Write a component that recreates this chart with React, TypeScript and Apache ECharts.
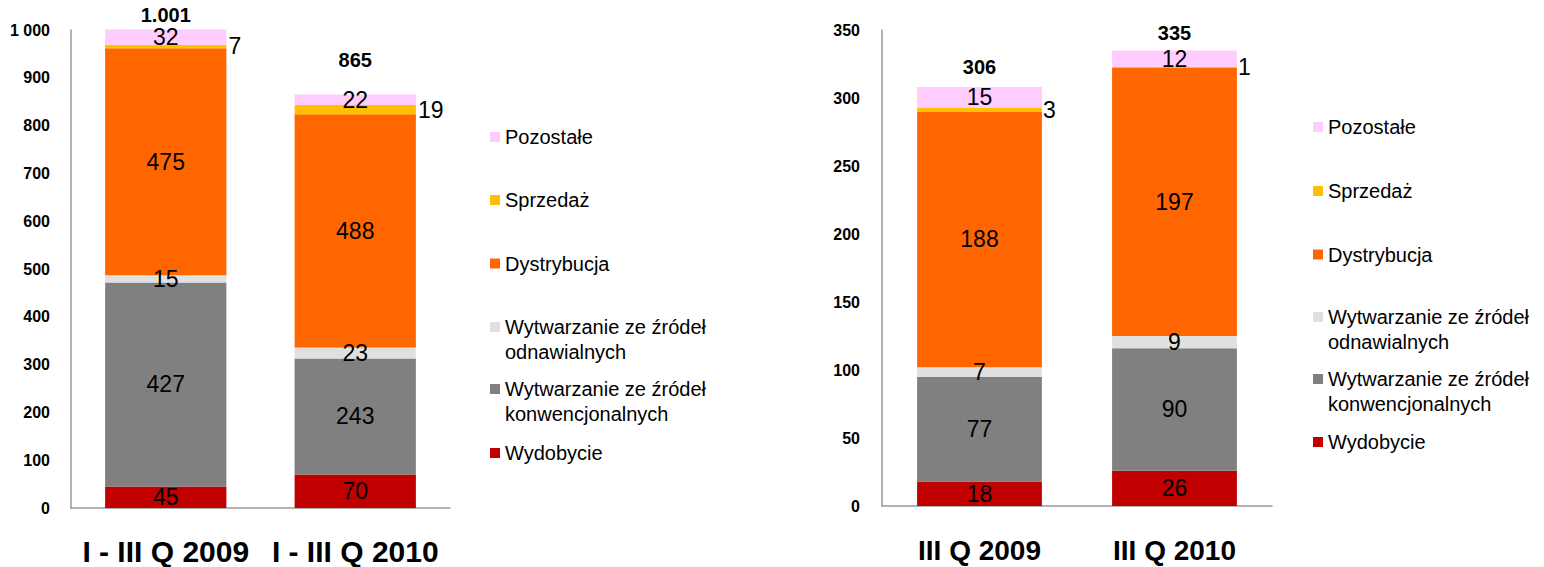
import React, { useEffect, useRef } from "react";
import * as echarts from "echarts";

const categoriesA = ["I - III Q 2009", "I - III Q 2010"];
const categoriesB = ["III Q 2009", "III Q 2010"];

const seriesNames = [
  "Wydobycie",
  "Wytwarzanie ze źródeł konwencjonalnych",
  "Wytwarzanie ze źródeł odnawialnych",
  "Dystrybucja",
  "Sprzedaż",
  "Pozostałe",
];
const seriesColors = ["#C00000", "#808080", "#E0E0E0", "#FF6600", "#FFC000", "#FFCCFF"];

// left chart (I - III Q)
const wydobycieA = [45, 70];
const konwencjonalneA = [427, 243];
const odnawialneA = [15, 23];
const dystrybucjaA = [475, 488];
const sprzedazA = [7, 19];
const pozostaleA = [32, 22];
const totalsA = [1001, 865];
const totalLabelsA = ["1.001", "865"];

// right chart (III Q)
const wydobycieB = [18, 26];
const konwencjonalneB = [77, 90];
const odnawialneB = [7, 9];
const dystrybucjaB = [188, 197];
const sprzedazB = [3, 1];
const pozostaleB = [15, 12];
const totalsB = [306, 335];
const totalLabelsB = ["306", "335"];

const ticksA = { min: 0, max: 1000, interval: 100 };
const ticksB = { min: 0, max: 350, interval: 50 };

const FONT = "'Liberation Sans', Arial, sans-serif";

function fmtThousands(v: number): string {
  const s = String(v);
  return s.replace(/\B(?=(\d{3})+(?!\d))/g, " ");
}

export default function App() {
  const ref = useRef<HTMLDivElement>(null);

  useEffect(() => {
    if (!ref.current) return;
    const chart = echarts.init(ref.current, undefined, { renderer: "svg" });

    const dataA = [wydobycieA, konwencjonalneA, odnawialneA, dystrybucjaA, sprzedazA, pozostaleA];
    const dataB = [wydobycieB, konwencjonalneB, odnawialneB, dystrybucjaB, sprzedazB, pozostaleB];

    const makeBars = (data: number[][], idx: number, stack: string, rightDist: number) =>
      data.map((vals, i) => ({
        type: "bar",
        name: seriesNames[i],
        stack,
        xAxisIndex: idx,
        yAxisIndex: idx,
        barWidth: "64%",
        clip: false,
        itemStyle: { color: seriesColors[i] },
        label: {
          show: true,
          position: i === 4 ? "right" : "inside",
          distance: i === 4 ? rightDist : 5,
          color: "#000",
          fontFamily: FONT,
          fontSize: 23,
        },
        data: vals,
      }));

    const makeTotals = (
      totals: number[],
      labels: string[],
      idx: number,
      dists: number[]
    ) => ({
      type: "scatter",
      name: "Suma",
      xAxisIndex: idx,
      yAxisIndex: idx,
      symbol: "circle",
      symbolSize: 0,
      clip: false,
      silent: true,
      itemStyle: { color: "#000000", opacity: 1 },
      label: {
        show: true,
        position: "top",
        color: "#000000",
        opacity: 1,
        fontWeight: "bold",
        fontFamily: FONT,
        fontSize: 20,
      },
      emphasis: { disabled: true },
      data: totals.map((v, i) => ({
        value: v,
        label: {
          distance: dists[i],
          formatter: labels[i],
        },
      })),
    });

    const legendTopsA = [440.5, 351.5, 289.5, 251, 187.5, 124.5];
    const legendTopsB = [429.5, 341.5, 279.5, 242, 178.5, 114.5];
    const legendFormatter = (name: string) => {
      const m = name.match(/^(Wytwarzanie ze źródeł) (.+)$/);
      return m ? "\n" + m[1] + "\n" + m[2] : name;
    };
    const makeLegends = (tops: number[], left: number) =>
      seriesNames.map((n, i) => ({
        data: [n],
        top: tops[i],
        left,
        padding: 0,
        orient: "vertical",
        selectedMode: false,
        icon: "rect",
        itemWidth: 10,
        itemHeight: 10,
        formatter: legendFormatter,
        textStyle: {
          color: "#000",
          fontFamily: FONT,
          fontSize: 20,
          lineHeight: 25,
        },
      }));

    const valueAxis = (idx: number, t: { min: number; max: number; interval: number }, margin: number) => ({
      type: "value",
      gridIndex: idx,
      min: t.min,
      max: t.max,
      interval: t.interval,
      splitLine: { show: false },
      axisTick: { show: false },
      axisLine: { show: true, lineStyle: { color: "#999999", width: 1.5 } },
      axisLabel: {
        margin,
        color: "#000",
        fontWeight: "bold",
        fontFamily: FONT,
        fontSize: 16,
        formatter: (v: number) => fmtThousands(v),
      },
    });

    const catAxis = (idx: number, cats: string[], fontSize: number, margin: number) => ({
      type: "category",
      gridIndex: idx,
      data: cats,
      axisTick: { show: false },
      axisLine: { show: true, lineStyle: { color: "#999999", width: 1.5 } },
      axisLabel: {
        interval: 0,
        margin,
        color: "#000",
        fontWeight: "bold",
        fontFamily: FONT,
        fontSize,
        lineHeight: 24,
      },
    });

    chart.setOption({
      animation: false,
      backgroundColor: "#ffffff",
      grid: [
        { left: 71, top: 30, width: 379, height: 478 },
        { left: 882, top: 30, width: 390, height: 476 },
      ],
      xAxis: [catAxis(0, categoriesA, 30, 31), catAxis(1, categoriesB, 28, 32)],
      yAxis: [valueAxis(0, ticksA, 21), valueAxis(1, ticksB, 22)],
      legend: [...makeLegends(legendTopsA, 490), ...makeLegends(legendTopsB, 1313)],
      series: [
        ...makeBars(dataA, 0, "a", 2),
        ...makeBars(dataB, 1, "b", 1),
        makeTotals(totalsA, totalLabelsA, 0, [5, 25]),
        makeTotals(totalsB, totalLabelsB, 1, [13, 7]),
      ],
    });

    return () => chart.dispose();
  }, []);

  return (
    <div
      ref={ref}
      style={{ position: "fixed", left: 0, top: 0, width: 1544, height: 567 }}
    />
  );
}
